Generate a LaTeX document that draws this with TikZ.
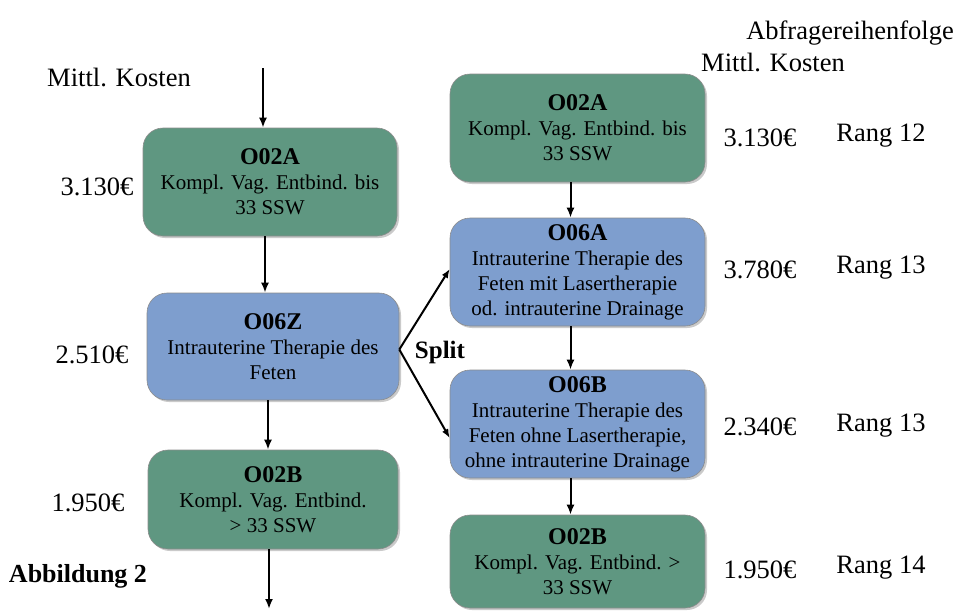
\documentclass[tikz,border=0pt]{standalone}
\usepackage{fontspec}
\setmainfont{Liberation Serif}
\usetikzlibrary{arrows.meta,shadows}
\definecolor{boxgreen}{RGB}{95,151,129}
\definecolor{boxblue}{RGB}{126,158,206}
\begin{document}
\begin{tikzpicture}[x=1pt,y=-1pt,
  box/.style={draw=black!45, line width=0.6pt, rounded corners=20pt, align=center,
    inner sep=2pt, font=\fontsize{21}{25}\selectfont,
    drop shadow={shadow xshift=2pt, shadow yshift=-2pt, opacity=0.35, fill=black!60}},
  gbox/.style={box, fill=boxgreen},
  bbox/.style={box, fill=boxblue},
  lbl/.style={font=\fontsize{26.5}{28}\selectfont, inner sep=0pt},
  arr/.style={line width=2pt, -{Latex[length=10pt,width=8pt]}},
  ttl/.style={font=\fontsize{24}{25}\selectfont\bfseries}
]
\useasboundingbox (0,0) rectangle (956,611);

% left column
\node[lbl] (mkL) at (119,77) {Mittl. Kosten};
\coordinate (topL) at (263,68);
\node[gbox, minimum width=254pt, minimum height=108pt] (L1) at (270,182)
  {{\bfseries\fontsize{24}{25}\selectfont O02A}\\Kompl. Vag. Entbind. bis\\33 SSW};
\node[bbox, minimum width=252pt, minimum height=107pt] (L2) at (273,346.5)
  {{\bfseries\fontsize{24}{25}\selectfont O06Z}\\Intrauterine Therapie des\\Feten};
\node[gbox, minimum width=250pt, minimum height=99pt] (L3) at (273,499.5)
  {{\bfseries\fontsize{24}{25}\selectfont O02B}\\Kompl. Vag. Entbind.\\> 33 SSW};
\coordinate (botL) at (269,609);

\node[lbl] (cL1) at (97,187) {3.130€};
\node[lbl] (cL2) at (92,355) {2.510€};
\node[lbl] (cL3) at (88,503) {1.950€};
\node[lbl, font=\fontsize{26}{28}\selectfont\bfseries] (abb) at (78,576) {Abbildung 2};

\draw[arr] (topL) -- (topL |- L1.north);
\draw[arr] ([xshift=-5pt]L1.south) -- ([xshift=-5pt]L1.south |- L2.north);
\draw[arr] ([xshift=-5pt]L2.south) -- ([xshift=-5pt]L2.south |- L3.north);
\draw[arr] ([xshift=-4pt]L3.south) -- (botL);

% right column
\node[lbl] (abf) at (850,33) {Abfragereihenfolge};
\node[lbl] (mkR) at (773,62) {Mittl. Kosten};
\node[gbox, minimum width=255pt, minimum height=108pt] (R1) at (577.5,128)
  {{\bfseries\fontsize{24}{25}\selectfont O02A}\\Kompl. Vag. Entbind. bis\\33 SSW};
\node[bbox, minimum width=255pt, minimum height=108pt] (R2) at (577.5,272)
  {{\bfseries\fontsize{24}{25}\selectfont O06A}\\Intrauterine Therapie des\\Feten mit Lasertherapie\\od. intrauterine Drainage};
\node[bbox, minimum width=255pt, minimum height=108pt] (R3) at (577.5,424)
  {{\bfseries\fontsize{24}{25}\selectfont O06B}\\Intrauterine Therapie des\\Feten ohne Lasertherapie,\\ohne intrauterine Drainage};
\node[gbox, minimum width=255pt, minimum height=93pt] (R4) at (577.5,561.5)
  {{\bfseries\fontsize{24}{25}\selectfont O02B}\\Kompl. Vag. Entbind. >\\33 SSW};

\draw[arr] ([xshift=-7pt]R1.south) -- ([xshift=-7pt]R1.south |- R2.north);
\draw[arr] ([xshift=-7pt]R2.south) -- ([xshift=-7pt]R2.south |- R3.north);
\draw[arr] ([xshift=-7pt]R3.south) -- ([xshift=-7pt]R3.south |- R4.north);

\node[lbl] (cR1) at (760,138) {3.130€};
\node[lbl] (cR2) at (760,270) {3.780€};
\node[lbl] (cR3) at (760,427) {2.340€};
\node[lbl] (cR4) at (760,570) {1.950€};
\node[lbl] (rR1) at (881,136) {Rang 12};
\node[lbl] (rR2) at (881,268) {Rang 13};
\node[lbl] (rR3) at (881,426) {Rang 13};
\node[lbl] (rR4) at (881,568) {Rang 14};

% split
\node[lbl, font=\fontsize{25}{27}\selectfont\bfseries] (split) at (440,352) {Split};
\coordinate (sp) at ([yshift=-3pt]L2.east);
\draw[line width=2pt, -{Latex[length=9pt,width=7pt]}] (sp) -- ([yshift=3pt]R2.west);
\draw[line width=2pt, -{Latex[length=9pt,width=7pt]}] (sp) -- ([yshift=-14pt]R3.west);
\end{tikzpicture}
\end{document}
